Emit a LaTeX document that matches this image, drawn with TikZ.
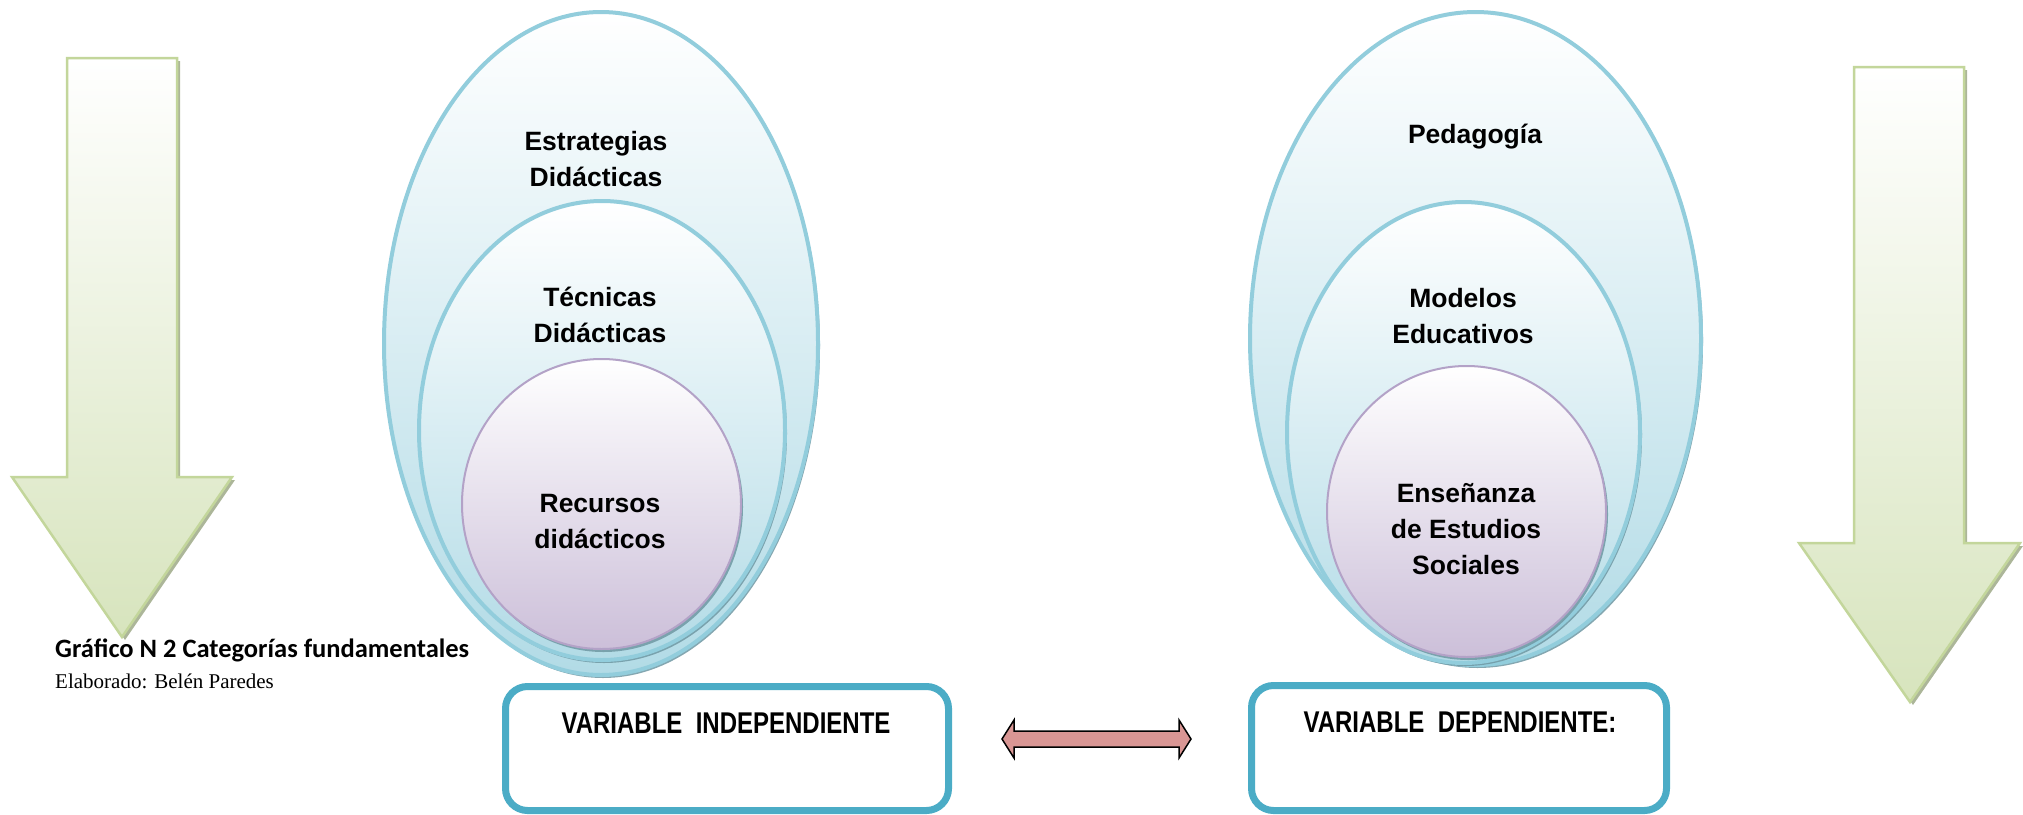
\documentclass[tikz,border=0pt]{standalone}
\usepackage{fontspec}
\setmainfont{Liberation Sans}
\newfontfamily\ellfont[BoldFont={Liberation Sans Bold}]{Liberation Sans}
\newfontfamily\boxfont[FakeStretch=0.8]{Liberation Sans}
\newfontfamily\capfont{Carlito}
\newfontfamily\serfont{Liberation Serif}
\usetikzlibrary{shapes.geometric,shadows}
\definecolor{ellline}{HTML}{92CDDC}
\definecolor{ellfill}{HTML}{B2DBE6}
\definecolor{purline}{HTML}{B3A2C7}
\definecolor{purfill}{HTML}{CCBFD9}
\definecolor{grnline}{HTML}{C3D69B}
\definecolor{grnfill}{HTML}{D7E4BD}
\definecolor{boxline}{HTML}{4BACC6}
\definecolor{pinkfill}{HTML}{D99694}
\definecolor{ellshadow}{HTML}{6F98A3}
\definecolor{grnshadow}{HTML}{A3AE8E}
\begin{document}
\begin{tikzpicture}[x=1pt,y=-1pt,
  bigell/.style={ellipse, draw=ellline, line width=4pt, top color=white, bottom color=ellfill, inner sep=0pt,
    drop shadow={shadow xshift=2pt, shadow yshift=-3pt, fill=ellshadow, opacity=0.85}},
  purell/.style={ellipse, draw=purline, line width=2pt, top color=white, bottom color=purfill, inner sep=0pt,
    drop shadow={shadow xshift=2pt, shadow yshift=-3pt, fill=ellshadow, opacity=0.85}},
  elltext/.style={align=center, font=\ellfont\bfseries\fontsize{26.5}{36}\selectfont, inner sep=0pt},
  varbox/.style={rectangle, rounded corners=22pt, draw=boxline, line width=7pt, fill=white, inner sep=0pt},
  boxtext/.style={font=\boxfont\bfseries\fontsize{30}{36}\selectfont, inner sep=0pt},
  grnarrow/.style={draw=grnline, line width=2.5pt, top color=white, bottom color=grnfill, line join=miter,
    drop shadow={shadow xshift=3pt, shadow yshift=-3pt, fill=grnshadow, opacity=0.9}},
  dblarrow/.style={draw=black, line width=1.5pt, fill=pinkfill, line join=miter}
]
\useasboundingbox (0,0) rectangle (2023,814);

% green down arrows
\draw[grnarrow] (67,58) -- (177,58) -- (177,477) -- (232,477) -- (122,637) -- (12,477) -- (67,477) -- cycle;
\draw[grnarrow] (1854,67) -- (1964,67) -- (1964,543) -- (2020,543) -- (1910,702) -- (1799,543) -- (1854,543) -- cycle;

% left ellipses
\node[bigell, minimum width=434pt, minimum height=663pt] (lout) at (601,343.5) {};
\node[bigell, minimum width=366pt, minimum height=459pt] (lmid) at (602,430.5) {};
\node[purell, minimum width=279pt, minimum height=290pt] (lin) at (601.5,504) {};
\node[elltext] (t1) at (596,159) {Estrategias\\Didácticas};
\node[elltext] (t2) at (600,315) {Técnicas\\Didácticas};
\node[elltext] (t3) at (600,522) {Recursos\\didácticos};

% right ellipses
\node[bigell, minimum width=451pt, minimum height=653pt] (rout) at (1475.5,338.5) {};
\node[bigell, minimum width=353pt, minimum height=461pt] (rmid) at (1463.5,432.5) {};
\node[purell, minimum width=279pt, minimum height=291pt] (rin) at (1466.5,511.5) {};
\node[elltext] (t4) at (1475,137) {Pedagogía};
\node[elltext] (t5) at (1463,316) {Modelos\\Educativos};
\node[elltext] (t6) at (1466,529) {Enseñanza\\de Estudios\\Sociales};

% caption
\node[anchor=west, inner sep=0pt, font=\capfont\bfseries\fontsize{26.5}{30}\selectfont] (cap) at (55,650) {Gráfico N 2 Categorías fundamentales};
\node[anchor=west, inner sep=0pt, font=\serfont\fontsize{21}{24}\selectfont] (elab) at (55,681) {Elaborado: Belén Paredes};

% variable boxes
\node[varbox, minimum width=443pt, minimum height=124pt] (vi) at (727,748.5) {};
\node[varbox, minimum width=415pt, minimum height=125pt] (vd) at (1459,748) {};
\node[boxtext] (vit) at (726,723) {VARIABLE\ \ INDEPENDIENTE};
\node[boxtext] (vdt) at (1460,722) {VARIABLE\ \ DEPENDIENTE:};

% double arrow
\draw[dblarrow] (1002,739) -- (1014,720) -- (1014,731) -- (1179,731) -- (1179,720) -- (1191,739) -- (1179,758) -- (1179,747) -- (1014,747) -- (1014,758) -- cycle;
\end{tikzpicture}
\end{document}
